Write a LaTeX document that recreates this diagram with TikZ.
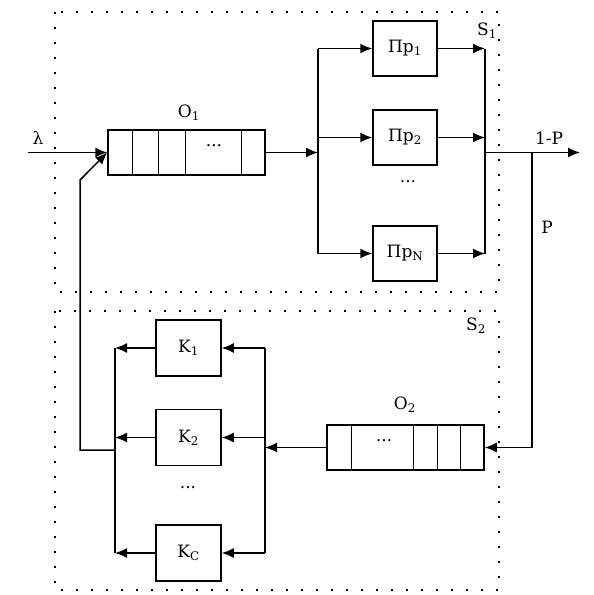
\documentclass[tikz,border=0pt]{standalone}
\usepackage{fontspec}
\setmainfont{DejaVu Serif}
\usepackage{tikz}
\usetikzlibrary{positioning, arrows.meta, calc}

\begin{document}
\begin{tikzpicture}[x=1pt,y=-1pt,line width=1.5pt]
		\tikzstyle{box} = [draw, rectangle, minimum width=64, minimum height=55, inner sep=0, font=\fontsize{17}{21}\selectfont]
		\tikzstyle{queue} = [draw, rectangle, minimum width=157, minimum height=45, inner sep=0]
		\tikzstyle{arr} = [-{Latex[length=12pt,width=10pt]}]
		\tikzstyle{frame} = [line width=1.6pt, dash pattern=on 1.6pt off 13.4pt]
		\tikzstyle{lbl} = [inner sep=0, font=\fontsize{17}{21}\selectfont]
		
		\useasboundingbox (0,0) rectangle (594,595);
		\draw [frame] (55,12) rectangle (499,292);
		\draw [frame] (55,311) rectangle (499,590);
		\node [lbl] (t1) at (487,31) {S\textsubscript{1}};
		\node [lbl] (t2) at (476,326) {S\textsubscript{2}};
		
		% first phase
		\node [queue] (q1) at (186.5,152.5) {};
		\foreach \d in {25,51,78,134} \draw ([xshift=\d]q1.north west) -- ([xshift=\d]q1.south west);
		\node [lbl] (d1) at (214,146) {...};
		\node [lbl] (o1) at (189,113) {O\textsubscript{1}};
		\coordinate (in) at (28,152.5);
		\node [lbl] (lam) at (38,138) {λ};
		\draw [arr] (in) -- (q1.west);
		
		\node [box] (p1) at (405,48.5) {Пр\textsubscript{1}};
		\node [box] (p2) at (405,137.5) {Пр\textsubscript{2}};
		\node [box] (pn) at (405,253.5) {Пр\textsubscript{N}};
		\node [lbl] (d2) at (408,182) {...};
		\coordinate (s1) at (318,152.5);
		\coordinate (c1) at (485,152.5);
		\draw [arr] (q1) -- (s1);
		\draw (s1 |- p1) -- (s1 |- pn);
		\draw (c1 |- p1) -- (c1 |- pn);
		\foreach \p in {p1,p2,pn} {
			\draw [arr] (s1 |- \p) -- (\p);
			\draw [arr] (\p) -- (c1 |- \p);
		}
		\coordinate (out) at (580,152.5);
		\coordinate (b) at (532,152.5);
		\draw [arr] (c1) -- (out);
		\node [lbl] (np) at (549,138) {1-P};
		\node [lbl] (pp) at (547,227) {P};
		
		% second phase
		\node [queue] (q2) at (405.5,447.5) {};
		\foreach \d in {25,87,111,134} \draw ([xshift=\d]q2.north west) -- ([xshift=\d]q2.south west);
		\node [lbl] (d3) at (384,441) {...};
		\node [lbl] (o2) at (405,405) {O\textsubscript{2}};
		\draw [arr] (b) |- (q2.east);
		
		\node [box,minimum width=65,minimum height=56] (k1) at (188.5,348) {K\textsubscript{1}};
		\node [box,minimum width=65,minimum height=56] (k2) at (188.5,437.5) {K\textsubscript{2}};
		\node [box,minimum width=65,minimum height=56] (kc) at (188.5,553) {K\textsubscript{C}};
		\node [lbl] (d4) at (188,488) {...};
		\coordinate (s2) at (265,447.5);
		\coordinate (c2) at (115,450);
		\draw [arr] (q2) -- (s2);
		\draw (s2 |- k1) -- (s2 |- kc);
		\draw (c2 |- k1) -- (c2 |- kc);
		\foreach \k in {k1,k2,kc} {
			\draw [arr] (s2 |- \k) -- (\k);
			\draw [arr] (\k) -- (c2 |- \k);
		}
		\coordinate (f1) at (80,450);
		\coordinate (f2) at (80,180);
		\draw [arr] (c2) -- (f1) -- (f2) -- (q1.west);
\end{tikzpicture}
\end{document}
